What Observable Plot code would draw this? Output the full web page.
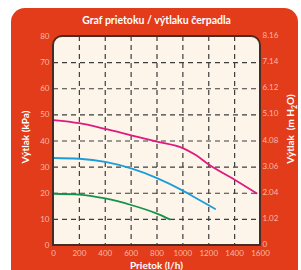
<!DOCTYPE html>
<html>
<head>
<meta charset="utf-8">
<script src="https://cdn.jsdelivr.net/npm/d3@7"></script>
<script src="https://cdn.jsdelivr.net/npm/@observablehq/plot@0.6"></script>
<style>
  html, body { margin: 0; padding: 0; background: #ffffff; }
  #wrap { position: relative; width: 301px; height: 270px; overflow: hidden; }
  #panel { position: absolute; left: 11px; top: 8px; width: 287px; height: 280px;
           background: #e23c1b; border-radius: 14px 14px 0 0; }
  #chart { position: absolute; left: 0; top: 0; }
</style>
</head>
<body>
<div id="wrap"><div id="panel"></div><div id="chart"></div></div>
<script>
const title = "Graf prietoku / výtlaku čerpadla";
const xLabel = "Prietok (l/h)";
const yLabelLeft = "Výtlak (kPa)";
const xTicks = [0, 200, 400, 600, 800, 1000, 1200, 1400, 1600];
const xTickLabels = ["0", "200", "400", "600", "800", "1000", "1200", "1400", "1600"];
const yTicks = [0, 10, 20, 30, 40, 50, 60, 70, 80];
const rightLabels = ["0", "1.02", "2.04", "3.06", "4.08", "5.10", "6.12", "7.14", "8.16"];

const magentaX = [0, 200, 400, 600, 800, 1000, 1100, 1200, 1400, 1570];
const magentaY = [48, 46.8, 44.6, 42.2, 39.8, 37.3, 34.6, 31, 25.2, 20];
const cyanX = [0, 200, 400, 600, 800, 1000, 1100, 1250];
const cyanY = [33.5, 33.2, 32, 29.5, 25.8, 21, 18.2, 14];
const greenX = [0, 200, 400, 600, 800, 900];
const greenY = [19.8, 19.5, 18, 15.5, 12.2, 10];

const series = [
  {name: "magenta", xs: magentaX, ys: magentaY, color: "#e0197f"},
  {name: "cyan", xs: cyanX, ys: cyanY, color: "#1c9dd8"},
  {name: "green", xs: greenX, ys: greenY, color: "#15934a"}
];
const rows = series.flatMap(s => s.xs.map((x, i) => ({x, y: s.ys[i], s: s.name})));

const gridStyle = {stroke: "#3d3d3d", strokeOpacity: 1, strokeWidth: 1.2, strokeDasharray: "5,4"};

const plot = Plot.plot({
  width: 301, height: 270,
  marginLeft: 53, marginRight: 41, marginTop: 36, marginBottom: 25,
  style: {background: "transparent", fontFamily: "Lato, 'Open Sans', sans-serif", fontSize: "8px", color: "#f7b9a3"},
  x: {domain: [0, 1600]},
  y: {domain: [0, 80]},
  marks: [
    Plot.gridX(xTicks.slice(1, -1), gridStyle),
    Plot.gridY(yTicks.slice(1, -1), gridStyle),
    ...series.map(s => Plot.line(rows.filter(r => r.s === s.name), {x: "x", y: "y", stroke: s.color, strokeWidth: 1.8, curve: "monotone-x"})),
    Plot.axisX(xTicks, {tickSize: 0, tickPadding: 4.5, label: null, fill: "#f7b9a3",
      tickFormat: d => xTickLabels[xTicks.indexOf(d)]}),
    Plot.axisY(yTicks, {anchor: "left", tickSize: 0, tickPadding: 4, label: null, fill: "#f7b9a3"}),
    Plot.axisY(yTicks, {anchor: "right", tickSize: 0, tickPadding: 2, dy: -1, label: null, fill: "#f7b9a3",
      tickFormat: d => rightLabels[yTicks.indexOf(d)]})
  ]
});

const svg = d3.select(plot);
const xs = plot.scale("x"), ys = plot.scale("y");
const x0 = xs.apply(0), x1 = xs.apply(1600), y0 = ys.apply(0), y1 = ys.apply(80);
const r = 9;
const framePath = `M${x0},${y0}L${x0},${y1 + r}A${r},${r} 0 0 1 ${x0 + r},${y1}L${x1 - r},${y1}A${r},${r} 0 0 1 ${x1},${y1 + r}L${x1},${y0}Z`;
svg.insert("path", "g").attr("d", framePath).attr("fill", "#fdf5ea");
svg.append("path").attr("d", framePath).attr("fill", "none").attr("stroke", "#4a2b22").attr("stroke-width", 2);

const cx = (x0 + x1) / 2;
const labelFont = "Lato, 'Open Sans', sans-serif";
svg.append("text").attr("x", cx).attr("y", 24).attr("text-anchor", "middle")
  .attr("font-family", labelFont).attr("font-weight", "bold").attr("font-size", 10.5).attr("fill", "#ffffff").text(title);
svg.append("text").attr("x", cx).attr("y", 268.5).attr("text-anchor", "middle")
  .attr("font-family", labelFont).attr("font-weight", "bold").attr("font-size", 10).attr("fill", "#ffffff").text(xLabel);
svg.append("text").attr("transform", `translate(29,137) rotate(-90)`).attr("text-anchor", "middle")
  .attr("font-family", labelFont).attr("font-weight", "bold").attr("font-size", 10).attr("fill", "#ffffff").text(yLabelLeft);
const rt = svg.append("text").attr("transform", `translate(294,129) rotate(-90)`).attr("text-anchor", "middle")
  .attr("font-family", labelFont).attr("font-weight", "bold").attr("font-size", 10).attr("fill", "#ffffff");
rt.append("tspan").text("Výtlak  (m H");
rt.append("tspan").attr("font-size", 7).attr("dy", 2.5).text("2");
rt.append("tspan").attr("dy", -2.5).text("O)");

document.getElementById("chart").appendChild(plot);
</script>
</body>
</html>
